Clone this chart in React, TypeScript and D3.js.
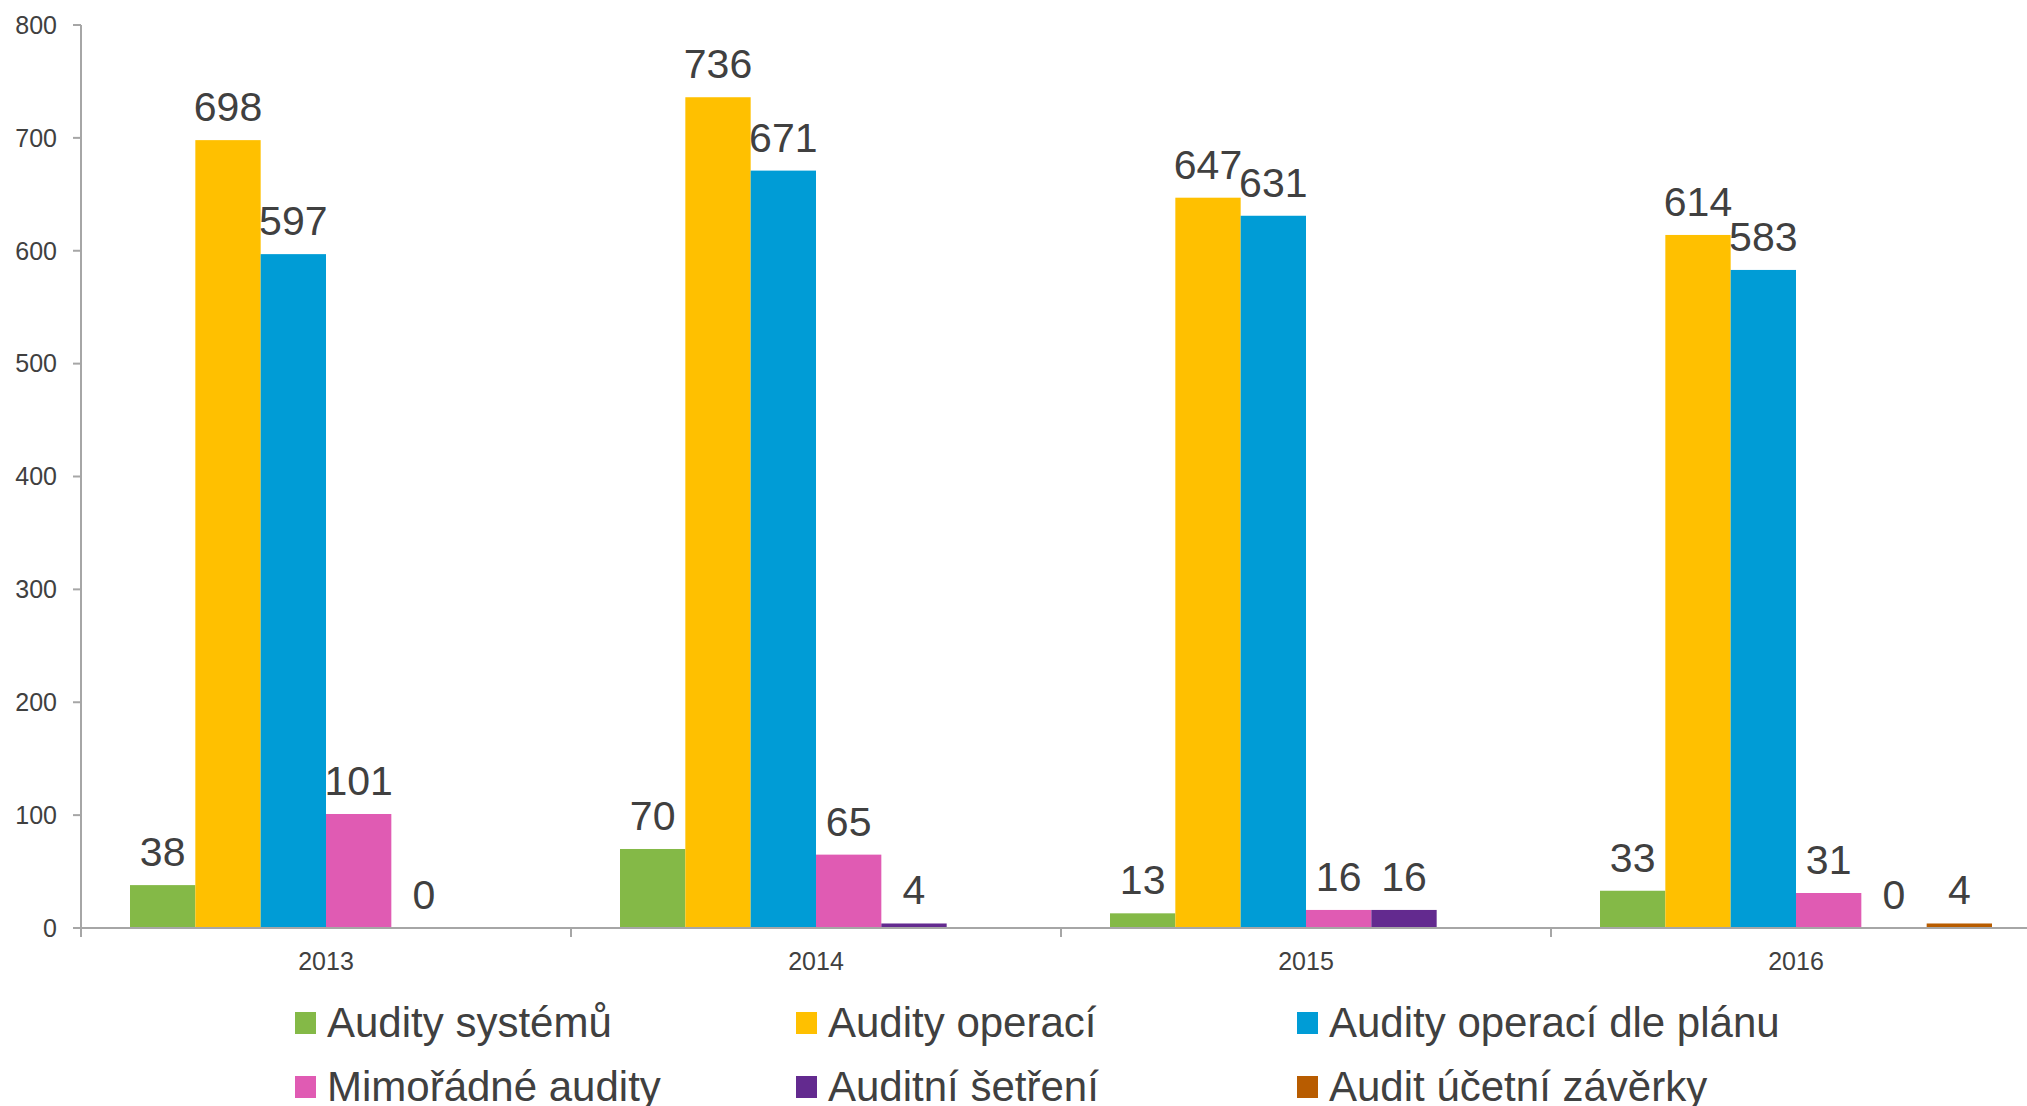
import React from "react";
import * as d3 from "d3";

const years = ["2013", "2014", "2015", "2016"];
const seriesNames = [
  "Audity systémů",
  "Audity operací",
  "Audity operací dle plánu",
  "Mimořádné audity",
  "Auditní šetření",
  "Audit účetní závěrky",
];
const seriesColors = ["#84B947", "#FFC000", "#009CD6", "#E05BB3", "#632A8F", "#B85C00"];
const auditySystemu = [38, 70, 13, 33];
const audityOperaci = [698, 736, 647, 614];
const audityDlePlanu = [597, 671, 631, 583];
const mimoradneAudity = [101, 65, 16, 31];
const auditniSetreni: (number | null)[] = [0, 4, 16, 0];
const auditUcetniZaverky: (number | null)[] = [null, null, null, 4];
const yTicks = [0, 100, 200, 300, 400, 500, 600, 700, 800];

const seriesValues = [
  auditySystemu,
  audityOperaci,
  audityDlePlanu,
  mimoradneAudity,
  auditniSetreni,
  auditUcetniZaverky,
];

const W = 2027;
const H = 1106;
const FONT = "'Liberation Sans', Arial, sans-serif";
const TEXT = "#404040";
const AXIS = "#A6A6A6";

export default function App() {
  const x0 = 81;
  const groupW = 490;
  const x = d3
    .scaleBand<string>()
    .domain(years)
    .range([x0, x0 + groupW * years.length])
    .paddingInner(0)
    .paddingOuter(0);
  const xs = d3
    .scaleBand<number>()
    .domain(d3.range(seriesNames.length))
    .range([0, groupW])
    .paddingInner(0)
    .paddingOuter(0.75);
  const y = d3.scaleLinear().domain([0, 800]).range([928, 25]);

  return (
    <svg
      width={W}
      height={H}
      style={{ position: "absolute", left: 0, top: 0, background: "#fff" }}
      fontFamily={FONT}
    >
      {/* bars */}
      {seriesValues.map((vals, si) =>
        vals.map((v, gi) =>
          v === null ? null : (
            <rect
              key={`b${si}-${gi}`}
              x={(x(years[gi]) as number) + (xs(si) as number)}
              y={y(v)}
              width={xs.bandwidth()}
              height={y(0) - y(v)}
              fill={seriesColors[si]}
            />
          )
        )
      )}
      {/* y axis */}
      <line x1={x0} x2={x0} y1={y(800)} y2={y(0)} stroke={AXIS} strokeWidth={2} />
      {yTicks.map((t) => (
        <g key={`yt${t}`}>
          <line x1={x0 - 8} x2={x0} y1={y(t)} y2={y(t)} stroke={AXIS} strokeWidth={2} />
          <text
            x={57}
            y={y(t)}
            dy="0.35em"
            textAnchor="end"
            fontSize={25}
            fill={TEXT}
          >
            {t}
          </text>
        </g>
      ))}
      {/* x axis */}
      <line x1={x0 - 8} x2={x0 + groupW * years.length} y1={y(0)} y2={y(0)} stroke={AXIS} strokeWidth={2} />
      {d3.range(years.length + 1).map((i) => (
        <line
          key={`xt${i}`}
          x1={x0 + i * groupW}
          x2={x0 + i * groupW}
          y1={y(0)}
          y2={y(0) + 9}
          stroke={AXIS}
          strokeWidth={2}
        />
      ))}
      {years.map((yr) => (
        <text
          key={`xl${yr}`}
          x={(x(yr) as number) + x.bandwidth() / 2}
          y={970}
          textAnchor="middle"
          fontSize={25}
          fill={TEXT}
        >
          {yr}
        </text>
      ))}
      {/* data labels */}
      {seriesValues.map((vals, si) =>
        vals.map((v, gi) =>
          v === null ? null : (
            <text
              key={`l${si}-${gi}`}
              x={(x(years[gi]) as number) + (xs(si) as number) + xs.bandwidth() / 2}
              y={y(v) - 19}
              textAnchor="middle"
              fontSize={41}
              fill={TEXT}
            >
              {v}
            </text>
          )
        )
      )}
      {/* legend */}
      {seriesNames.map((name, i) => {
        const col = i % 3;
        const row = Math.floor(i / 3);
        const lx = 295 + col * 501;
        const ly = 1012 + row * 64;
        return (
          <g key={`lg${i}`}>
            <rect x={lx} y={ly} width={21} height={22} fill={seriesColors[i]} />
            <text x={lx + 32} y={ly + 25} fontSize={42} fill={TEXT}>
              {name}
            </text>
          </g>
        );
      })}
    </svg>
  );
}
